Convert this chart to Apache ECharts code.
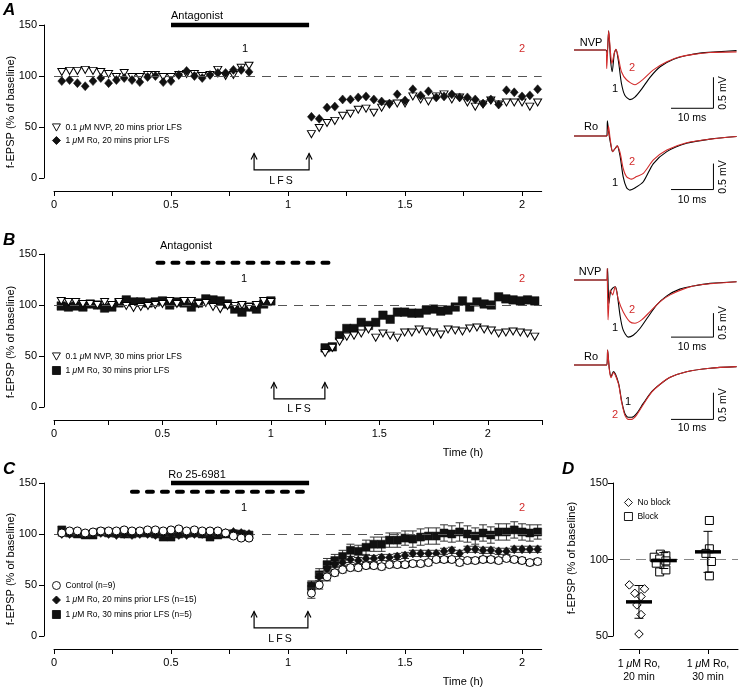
<!DOCTYPE html>
<html>
<head>
<meta charset="utf-8">
<script src="https://cdn.jsdelivr.net/npm/echarts@6.0.0/dist/echarts.min.js"></script>
<style>
html,body{margin:0;padding:0;background:#ffffff;}
#chart{width:740px;height:690px;}
</style>
</head>
<body>
<div id="chart"></div>
<script>
// ================= DATA =================
// ---- Panel A (time in minutes, f-EPSP in % of baseline)
const aBaseTimeMin = [2,4,6,8,10,12,14,16,18,20,22,24,26,28,30,32,34,36,38,40,42,44,46,48,50];
const aPostTimeMin = [66,68,70,72,74,76,78,80,82,84,86,88,90,92,94,96,98,100,102,104,106,108,110,112,114,116,118,120,122,124];
const aNvpBase = [104,105,105,106,105,104,102,99,103,99,99,101,101,99,99,101,102,102,100,101,106,100,101,108,110];
const aNvpPost = [43,49,54,56,61,63,67,68,64,69,72,73,73,80,77,75,80,82,77,79,74,70,72,76,72,74,74,74,70,74];
const aRoBase  = [95,96,93,90,95,98,93,96,98,96,94,99,100,94,95,101,105,100,98,101,103,103,106,106,104];
const aRoPost  = [60,58,69,70,77,77,79,80,77,75,73,82,76,87,81,85,79,80,82,79,79,77,73,77,72,86,84,80,81,87];
const aAntagonistBar = [0.5, 1.09];        // hours
const aLfs = [0.855, 1.09];                // hours

// ---- Panel B
const bBaseTimeMin = [2,4,6,8,10,12,14,16,18,20,22,24,26,28,30,32,34,36,38,40,42,44,46,48,50,52,54,56,58,60];
const bPostTimeMin = [75,77,79,81,83,85,87,89,91,93,95,97,99,101,103,105,107,109,111,113,115,117,119,121,123,125,127,129,131,133];
const bNvpBase = [104,103,103,101,101,100,103,100,103,99,97,98,99,100,101,104,101,104,104,101,102,98,96,99,99,100,98,100,104,103];
const bNvpPost = [53,58,64,69,70,72,76,68,72,70,68,73,73,76,74,73,71,76,75,74,77,78,76,75,72,73,74,73,72,69];
const bRoBase  = [99,98,99,98,101,100,97,98,102,105,103,103,102,103,104,100,103,102,98,102,106,105,104,101,96,93,98,96,101,104];
const bRoPost  = [58,59,70,77,77,83,80,83,90,86,93,93,92,92,95,96,94,95,98,104,98,103,101,100,108,106,105,104,105,104];
const bAntagonistBar = [0.477, 1.29];
const bLfs = [1.014, 1.249];

// ---- Panel C (mean and SEM)
const cBaseTimeMin = [2,4,6,8,10,12,14,16,18,20,22,24,26,28,30,32,34,36,38,40,42,44,46,48,50];
const cPostTimeMin = [66,68,70,72,74,76,78,80,82,84,86,88,90,92,94,96,98,100,102,104,106,108,110,112,114,116,118,120,122,124];
const cCtrlBase = [101,103,103,101,102,103,103,103,104,103,103,104,104,103,104,105,103,104,103,103,103,101,98,96,96];
const cCtrlPost = [42,50,58,62,65,67,67,69,69,68,70,70,70,71,71,72,75,75,75,72,74,74,75,75,74,76,75,74,72,73];
const cR20Base  = [100,100,101,100,100,101,100,99,100,99,100,100,99,100,100,99,99,100,100,101,100,101,102,101,100];
const cR20Post  = [49,58,66,70,72,75,74,76,76,77,77,78,79,81,81,81,81,83,84,81,85,85,84,84,83,83,85,85,85,85];
const cR30Base  = [104,101,100,99,99,102,101,101,100,100,101,101,100,97,97,100,101,101,100,97,99,100,100,100,99];
const cR30Post  = [49,60,70,74,78,84,83,87,90,90,94,94,96,95,97,98,98,101,100,102,100,98,101,99,102,102,104,102,101,102];
const cCtrlSemBase = [2,2,2,2,2,2,2,2,2,2,2,2,2,2,2,2,2,2,2,2,2,2,2,2,2];
const cCtrlSemPost = [5,4,4,3,3,3,3,3,3,3,3,3,3,3,3,3,3,3,3,3,3,3,3,3,3,3,3,3,3,3];
const cR20SemBase  = [2,2,2,2,2,2,2,2,2,2,2,2,2,2,2,2,2,2,2,2,2,2,2,2,2];
const cR20SemPost  = [4,4,3,3,3,3,3,3,3,3,3,3,3,3,3,3,3,3,3,3,3,3,3,3,3,3,3,3,3,3];
const cR30SemBase  = [3,3,3,3,3,3,3,3,3,3,3,3,3,3,3,3,3,3,3,3,3,3,3,3,3];
const cR30SemPost  = [5,6,6,6,6,6,6,7,7,7,7,7,7,8,8,8,8,8,8,9,8,8,8,8,8,8,8,8,8,7];
const cRoSolidBar  = [0.5, 1.09];
const cRoDashedBar = [0.333, 1.085];
const cLfs = [0.855, 1.085];

// ---- Panel D
const dCategories = ['1 μM Ro,\n20 min', '1 μM Ro,\n30 min'];
const dNoBlockX = [0.86,1.08,0.94,1.03,0.97,1.03,1.0];
const dNoBlockY = [83.4,80.8,77.9,75.8,70.3,64.0,51.3];
const dBlock20X = [1.31,1.22,1.39,1.30,1.25,1.39,1.30,1.39];
const dBlock20Y = [103.5,101.5,102.4,100.3,97.6,99.1,91.9,93.2];
const dBlock30X = [2.02,2.02,1.97,2.05,2.02];
const dBlock30Y = [125.5,107,104,98.7,89.3];
const dMeanX  = [1.0, 1.36, 2.0];
const dMeanY  = [72.3, 99.3, 105];
const dMeanSd = [10.7, 5.2, 13.4];

// ---- Example traces (time in ms, amplitude in mV)
const t1BlackT = [0,7.6,7.9,8.25,8.7,9.1,9.6,10.0,10.6,11.3,12.1,13.3,14.5,16.1,18.1,20.5,23.7,26.8,30.0,34.0,38.7];
const t1BlackV = [0,0,-0.05,0.31,-0.16,-0.35,-0.05,0.01,-0.19,-0.54,-0.73,-0.80,-0.76,-0.63,-0.44,-0.27,-0.15,-0.09,-0.05,-0.03,-0.01];
const t1RedT   = [0,7.6,7.8,8.25,8.7,9.0,9.6,10.0,10.6,11.3,12.5,14.5,16.5,18.9,22.1,25.2,28.4,32.4,38.7];
const t1RedV   = [0,0,-0.30,0.31,-0.05,-0.22,-0.05,0.01,-0.13,-0.35,-0.48,-0.56,-0.47,-0.32,-0.19,-0.11,-0.07,-0.04,-0.03];
const t2BlackT = [0,7.8,7.95,8.25,8.7,9.2,9.8,10.3,11.0,11.7,12.5,13.3,14.5,16.5,18.9,22.1,26.8,32.4,38.7];
const t2BlackV = [0,0,0.29,0.08,-0.14,-0.30,-0.24,-0.19,-0.40,-0.78,-0.99,-1.04,-1.0,-0.88,-0.53,-0.30,-0.14,-0.06,-0.01];
const t2RedT   = [0,7.8,8.2,8.6,9.2,9.8,10.3,11.0,11.7,12.5,13.7,14.9,16.5,18.9,22.1,26.8,32.4,38.7];
const t2RedV   = [0,0,0.19,-0.05,-0.30,-0.24,-0.19,-0.33,-0.62,-0.78,-0.83,-0.78,-0.72,-0.46,-0.27,-0.13,-0.06,-0.01];
const t3BlackT = [0,7.8,8.0,8.3,8.7,9.2,9.8,10.2,11.0,11.7,12.9,14.1,15.7,17.7,19.7,22.1,25.2,28.4,32.4,38.7];
const t3BlackV = [0,0,0.24,-0.49,-0.24,-0.17,-0.14,-0.24,-0.76,-1.04,-1.19,-1.15,-1.01,-0.76,-0.52,-0.33,-0.19,-0.125,-0.07,-0.035];
const t3RedT   = [0,7.8,7.9,8.1,8.6,9.2,9.8,10.6,11.7,13.3,14.5,16.1,18.1,20.5,22.9,26.0,30.0,38.7];
const t3RedV   = [0,0,0.24,-0.83,-0.21,-0.31,-0.14,-0.42,-0.66,-0.87,-0.90,-0.83,-0.66,-0.45,-0.31,-0.19,-0.10,-0.035];
const t4BlackT = [0,7.8,8.0,8.4,8.8,9.4,10.6,11.3,12.1,12.9,13.7,14.9,16.5,18.5,20.5,22.9,26.8,32.4,38.7];
const t4BlackV = [0,0,0.28,-0.06,-0.22,-0.125,-0.34,-0.66,-0.91,-0.98,-0.98,-0.91,-0.72,-0.50,-0.36,-0.23,-0.125,-0.06,-0.03];
const t4RedT   = [0,7.8,8.0,8.4,8.8,9.4,10.6,11.3,12.1,12.9,13.7,14.9,16.5,18.5,20.5,22.9,26.8,32.4,38.7];
const t4RedV   = [0,0,0.28,-0.08,-0.24,-0.14,-0.36,-0.68,-0.94,-1.02,-1.02,-0.94,-0.74,-0.51,-0.36,-0.23,-0.125,-0.06,-0.03];
// scale bars: [t0, t1] ms for 10 ms, [vBottom, vTop] mV for 0.5 mV
const scaleMs = [23.1, 33.2];
const t1ScaleMv = [-0.94, -0.44];
const t2ScaleMv = [-1.03, -0.53];
const t3ScaleMv = [-1.19, -0.69];
const t4ScaleMv = [-1.02, -0.52];

// ================= CHART =================
const FONT = '"Liberation Sans", Arial, Helvetica, sans-serif';
const RED = '#d22b2b';
const chart = echarts.init(document.getElementById('chart'), null, {renderer: 'canvas'});

const toPts = (tMin, vals) => tMin.map((t, i) => [t / 60, vals[i]]);
const toErr = (tMin, vals, sem) => tMin.map((t, i) => [t / 60, vals[i], sem[i]]);
const zipXY = (xs, ys) => xs.map((x, i) => [x, ys[i]]);

function ticks(max, step) { const r = []; for (let v = 0; v <= max + 1e-9; v += step) r.push(+v.toFixed(4)); return r; }

const axisLineStyle = {show: true, onZero: false, lineStyle: {color: '#000', width: 1}};
function timeXAxis(g, max) {
  return {gridIndex: g, type: 'value', min: 0, max: max, offset: 13,
    axisLine: axisLineStyle,
    axisTick: {show: true, length: 5, lineStyle: {color: '#000'}, customValues: ticks(max, 0.25)},
    axisLabel: {fontSize: 11, color: '#000', margin: 8, fontFamily: FONT, customValues: ticks(max, 0.5)},
    splitLine: {show: false}};
}
function pctYAxis(g) {
  return {gridIndex: g, type: 'value', min: 0, max: 150, interval: 50, offset: 10,
    axisLine: axisLineStyle,
    axisTick: {show: true, length: 5, lineStyle: {color: '#000'}},
    axisLabel: {fontSize: 11, color: '#000', margin: 7, fontFamily: FONT},
    splitLine: {show: false}};
}
const hidden = (g, min, max) => ({gridIndex: g, type: 'value', min: min, max: max, show: false, splitLine: {show: false}});

const dashed100 = {silent: true, symbol: 'none', label: {show: false}, emphasis: {disabled: true},
  lineStyle: {color: '#555', width: 1, type: [9, 7]}, data: [{yAxis: 100}]};

function errorBars(xi, data, z) {
  return {type: 'custom', xAxisIndex: xi, yAxisIndex: xi, data: data, z: z, silent: true,
    renderItem: (p, api) => {
      const x = api.value(0), y = api.value(1), e = api.value(2);
      const a = api.coord([x, y + e]), b = api.coord([x, y - e]);
      const w = 4, st = {stroke: '#333', lineWidth: 1};
      return {type: 'group', children: [
        {type: 'line', shape: {x1: a[0], y1: a[1], x2: b[0], y2: b[1]}, style: st},
        {type: 'line', shape: {x1: a[0] - w, y1: a[1], x2: a[0] + w, y2: a[1]}, style: st},
        {type: 'line', shape: {x1: b[0] - w, y1: b[1], x2: b[0] + w, y2: b[1]}, style: st}]};
    }};
}
function lfsBracket(xi, lfs) {
  return {type: 'custom', xAxisIndex: xi, yAxisIndex: xi, silent: true, z: 5,
    data: [[lfs[0], lfs[1], 8, 24]],
    renderItem: (p, api) => {
      const x1 = api.value(0), x2 = api.value(1), yb = api.value(2), yt = api.value(3);
      const p1b = api.coord([x1, yb]), p1t = api.coord([x1, yt]);
      const p2b = api.coord([x2, yb]), p2t = api.coord([x2, yt]);
      const st = {stroke: '#000', lineWidth: 1.2, fill: null};
      const head = (q) => ({type: 'polyline', shape: {points: [[q[0] - 3, q[1] + 6], q, [q[0] + 3, q[1] + 6]]}, style: st});
      return {type: 'group', children: [
        {type: 'polyline', shape: {points: [p1t, p1b, p2b, p2t]}, style: st},
        head(p1t), head(p2t)]};
    }};
}
function drugBar(xi, range, y, dashed) {
  return {type: 'line', xAxisIndex: xi, yAxisIndex: xi, silent: true, clip: false, showSymbol: false, symbol: 'none', z: 5,
    data: [[range[0], y], [range[1], y]],
    lineStyle: {color: '#000', width: dashed ? 4 : 4.5, type: dashed ? [6, 9] : 'solid', cap: dashed ? 'round' : 'butt'}};
}
function trace(xi, ts, vs, color, z) {
  return {type: 'line', xAxisIndex: xi, yAxisIndex: xi, silent: true, showSymbol: false, symbol: 'none', smooth: 0.25,
    z: z, clip: false, data: zipXY(ts, vs), lineStyle: {color: color, width: 1.1}};
}
function scaleBar(xi, mv) {
  return {type: 'line', xAxisIndex: xi, yAxisIndex: xi, silent: true, showSymbol: false, symbol: 'none', clip: false, z: 5,
    data: [[scaleMs[0], mv[0]], [scaleMs[1], mv[0]], [scaleMs[1], mv[1]]], lineStyle: {color: '#000', width: 1}};
}
function meanSd(xi, xs, ms, sds) {
  return {type: 'custom', xAxisIndex: xi, yAxisIndex: xi, silent: true, z: 6,
    data: xs.map((x, i) => [x, ms[i], sds[i]]),
    renderItem: (p, api) => {
      const x = api.value(0), m = api.value(1), s = api.value(2);
      const c = api.coord([x, m]), a = api.coord([x, m + s]), b = api.coord([x, m - s]);
      const st = {stroke: '#000', lineWidth: 1};
      return {type: 'group', children: [
        {type: 'line', shape: {x1: a[0], y1: a[1], x2: b[0], y2: b[1]}, style: st},
        {type: 'line', shape: {x1: a[0] - 4.5, y1: a[1], x2: a[0] + 4.5, y2: a[1]}, style: st},
        {type: 'line', shape: {x1: b[0] - 4.5, y1: b[1], x2: b[0] + 4.5, y2: b[1]}, style: st},
        {type: 'line', shape: {x1: c[0] - 13, y1: c[1], x2: c[0] + 13, y2: c[1]}, style: {stroke: '#000', lineWidth: 3.5}}]};
    }};
}

const openStyle = {color: '#fff', borderColor: '#000', borderWidth: 1, opacity: 1};
const fillStyle = {color: '#111', borderColor: '#111', borderWidth: 0.5, opacity: 1};
const TRI_DOWN = 'path://M0,0L10,0L5,9Z';

const series = [
  // ---- A
  {name: '0.1 μM NVP, 20 mins prior LFS', type: 'scatter', xAxisIndex: 0, yAxisIndex: 0, symbol: TRI_DOWN,
   symbolSize: [8, 7], itemStyle: openStyle, z: 3, data: toPts(aBaseTimeMin, aNvpBase).concat(toPts(aPostTimeMin, aNvpPost)), markLine: dashed100},
  {name: '1 μM Ro, 20 mins prior LFS', type: 'scatter', xAxisIndex: 0, yAxisIndex: 0, symbol: 'diamond', symbolSize: [8, 9],
   itemStyle: fillStyle, z: 4, data: toPts(aBaseTimeMin, aRoBase).concat(toPts(aPostTimeMin, aRoPost))},
  drugBar(0, aAntagonistBar, 150, false),
  lfsBracket(0, aLfs),
  // ---- B
  {name: '1 μM Ro, 30 mins prior LFS', type: 'scatter', xAxisIndex: 1, yAxisIndex: 1, symbol: 'rect', symbolSize: 8.5,
   itemStyle: fillStyle, z: 3, data: toPts(bBaseTimeMin, bRoBase).concat(toPts(bPostTimeMin, bRoPost)), markLine: dashed100},
  {name: '0.1 μM NVP, 30 mins prior LFS', type: 'scatter', xAxisIndex: 1, yAxisIndex: 1, symbol: TRI_DOWN,
   symbolSize: [8, 7], itemStyle: openStyle, z: 4, data: toPts(bBaseTimeMin, bNvpBase).concat(toPts(bPostTimeMin, bNvpPost))},
  drugBar(1, bAntagonistBar, 141.5, true),
  lfsBracket(1, bLfs),
  // ---- C
  errorBars(2, toErr(cBaseTimeMin, cR30Base, cR30SemBase).concat(toErr(cPostTimeMin, cR30Post, cR30SemPost)), 2),
  {name: '1 μM Ro, 30 mins prior LFS (n=5)', type: 'scatter', xAxisIndex: 2, yAxisIndex: 2, symbol: 'rect', symbolSize: 8,
   itemStyle: fillStyle, z: 3, data: toPts(cBaseTimeMin, cR30Base).concat(toPts(cPostTimeMin, cR30Post)), markLine: dashed100},
  errorBars(2, toErr(cBaseTimeMin, cR20Base, cR20SemBase).concat(toErr(cPostTimeMin, cR20Post, cR20SemPost)), 4),
  {name: '1 μM Ro, 20 mins prior LFS (n=15)', type: 'scatter', xAxisIndex: 2, yAxisIndex: 2, symbol: 'diamond', symbolSize: [8, 9],
   itemStyle: fillStyle, z: 5, data: toPts(cBaseTimeMin, cR20Base).concat(toPts(cPostTimeMin, cR20Post))},
  errorBars(2, toErr(cBaseTimeMin, cCtrlBase, cCtrlSemBase).concat(toErr(cPostTimeMin, cCtrlPost, cCtrlSemPost)), 6),
  {name: 'Control (n=9)', type: 'scatter', xAxisIndex: 2, yAxisIndex: 2, symbol: 'circle', symbolSize: 8,
   itemStyle: openStyle, z: 7, data: toPts(cBaseTimeMin, cCtrlBase).concat(toPts(cPostTimeMin, cCtrlPost))},
  drugBar(2, cRoSolidBar, 150, false),
  drugBar(2, cRoDashedBar, 141.5, true),
  lfsBracket(2, cLfs),
  // ---- D
  {name: 'No block', type: 'scatter', xAxisIndex: 3, yAxisIndex: 3, symbol: 'diamond', symbolSize: 8.5,
   itemStyle: openStyle, z: 3, data: zipXY(dNoBlockX, dNoBlockY),
   markLine: {silent: true, symbol: 'none', label: {show: false}, emphasis: {disabled: true},
     lineStyle: {color: '#888', width: 1.2, type: [10, 6]}, data: [{yAxis: 100}]}},
  {name: 'Block', type: 'scatter', xAxisIndex: 3, yAxisIndex: 3, symbol: 'rect', symbolSize: 8,
   itemStyle: openStyle, z: 3, data: zipXY(dBlock20X, dBlock20Y)},
  {name: 'Block', type: 'scatter', xAxisIndex: 3, yAxisIndex: 3, symbol: 'rect', symbolSize: 8,
   itemStyle: openStyle, z: 3, data: zipXY(dBlock30X, dBlock30Y)},
  meanSd(3, dMeanX, dMeanY, dMeanSd),
  // ---- Traces
  trace(4, t1BlackT, t1BlackV, '#000', 3), trace(4, t1RedT, t1RedV, RED, 4), scaleBar(4, t1ScaleMv),
  trace(5, t2BlackT, t2BlackV, '#000', 3), trace(5, t2RedT, t2RedV, RED, 4), scaleBar(5, t2ScaleMv),
  trace(6, t3BlackT, t3BlackV, '#000', 3), trace(6, t3RedT, t3RedV, RED, 4), scaleBar(6, t3ScaleMv),
  trace(7, t4BlackT, t4BlackV, '#000', 3), trace(7, t4RedT, t4RedV, RED, 4), scaleBar(7, t4ScaleMv)
];

function legend(names, left, top, gap) {
  return {data: names, left: left, top: top, orient: 'vertical', itemGap: gap, itemWidth: 8, itemHeight: 8,
    selectedMode: false, padding: 0,
    itemStyle: {borderWidth: 0.9},
    formatter: n => n.replace('μ', '{i|μ}'),
    textStyle: {fontSize: 8.5, color: '#000', fontFamily: FONT, padding: [0, 0, 0, 0],
      rich: {i: {fontStyle: 'italic', fontSize: 8.5, fontFamily: FONT}}}};
}

function txt(text, x, y, o) {
  o = o || {};
  return {type: 'text', x: x, y: y, rotation: o.rot || 0, silent: true, z: 100,
    style: {text: text, fill: o.color || '#000', textAlign: o.align || 'center', textVerticalAlign: 'middle',
      font: (o.style || 'normal') + ' ' + (o.weight || 'normal') + ' ' + (o.size || 11) + 'px ' + FONT}};
}
const ylab = 'f-EPSP (% of baseline)';
const graphics = [
  txt('A', 3, 10, {align: 'left', size: 17, weight: 'bold', style: 'italic'}),
  txt('B', 3, 240, {align: 'left', size: 17, weight: 'bold', style: 'italic'}),
  txt('C', 3, 469, {align: 'left', size: 17, weight: 'bold', style: 'italic'}),
  txt('D', 562, 469, {align: 'left', size: 17, weight: 'bold', style: 'italic'}),
  txt(ylab, 11, 112, {rot: Math.PI / 2}), txt(ylab, 11, 342, {rot: Math.PI / 2}),
  txt(ylab, 11, 569, {rot: Math.PI / 2}), txt(ylab, 572, 558, {rot: Math.PI / 2}),
  txt('Antagonist', 197, 16), txt('1', 245, 49), txt('2', 522, 49, {color: RED}), txt('L\u2009F\u2009S', 281, 181, {size: 10.5}),
  txt('Antagonist', 186, 246), txt('1', 244, 279), txt('2', 522, 279, {color: RED}), txt('L\u2009F\u2009S', 299, 409, {size: 10.5}),
  txt('Time (h)', 463, 453),
  txt('Ro 25-6981', 197, 475), txt('1', 244, 508), txt('2', 522, 508, {color: RED}), txt('L\u2009F\u2009S', 280, 639, {size: 10.5}),
  txt('Time (h)', 463, 682),
  // traces A
  txt('NVP', 591, 43), txt('2', 632, 68, {color: RED}), txt('1', 615, 89),
  txt('10 ms', 692, 118, {size: 10.5}), txt('0.5 mV', 723, 93, {rot: Math.PI / 2, size: 10.5}),
  txt('Ro', 591, 127), txt('2', 632, 162, {color: RED}), txt('1', 615, 183),
  txt('10 ms', 692, 200, {size: 10.5}), txt('0.5 mV', 723, 177, {rot: Math.PI / 2, size: 10.5}),
  // traces B
  txt('NVP', 590, 272), txt('2', 632, 310, {color: RED}), txt('1', 615, 328),
  txt('10 ms', 692, 347, {size: 10.5}), txt('0.5 mV', 723, 323, {rot: Math.PI / 2, size: 10.5}),
  txt('Ro', 591, 357), txt('1', 628, 402), txt('2', 615, 415, {color: RED}),
  txt('10 ms', 692, 428, {size: 10.5}), txt('0.5 mV', 723, 405, {rot: Math.PI / 2, size: 10.5})
];

const option = {
  animation: false,
  backgroundColor: '#fff',
  textStyle: {fontFamily: FONT},
  grid: [
    {left: 54, top: 25, width: 487.7, height: 153},
    {left: 54, top: 254, width: 488, height: 153},
    {left: 54, top: 483, width: 487.7, height: 153},
    {left: 620, top: 483, width: 118, height: 153},
    {left: 574, top: 22.1, width: 163.8, height: 96.1},
    {left: 574, top: 112.6, width: 163.8, height: 91},
    {left: 574, top: 258.4, width: 163.8, height: 84},
    {left: 574, top: 341, width: 163.8, height: 88}
  ],
  xAxis: [
    timeXAxis(0, 2.084), timeXAxis(1, 2.25), timeXAxis(2, 2.084),
    {gridIndex: 3, type: 'value', min: 0.725, max: 2.435, offset: 13, axisLine: axisLineStyle,
     axisTick: {show: true, length: 5, lineStyle: {color: '#000'}, customValues: [1, 2]},
     axisLabel: {customValues: [1, 2], fontSize: 10.5, color: '#000', margin: 9, lineHeight: 13, fontFamily: FONT,
       formatter: v => dCategories[Math.round(v) - 1].replace('μ', '{i|μ}'),
       rich: {i: {fontStyle: 'italic', fontSize: 10.5, fontFamily: FONT}}},
     splitLine: {show: false}},
    hidden(4, 0, 39), hidden(5, 0, 39), hidden(6, 0, 39), hidden(7, 0, 39)
  ],
  yAxis: [
    pctYAxis(0), pctYAxis(1), pctYAxis(2),
    {gridIndex: 3, type: 'value', min: 50, max: 150, interval: 50, offset: 7, axisLine: axisLineStyle,
     axisTick: {show: true, length: 5, lineStyle: {color: '#000'}},
     axisLabel: {fontSize: 11, color: '#000', margin: 5, fontFamily: FONT}, splitLine: {show: false}},
    hidden(4, -1.1, 0.45), hidden(5, -1.3, 0.45), hidden(6, -1.3, 0.45), hidden(7, -1.2, 0.45)
  ],
  legend: [
    legend(['0.1 μM NVP, 20 mins prior LFS', '1 μM Ro, 20 mins prior LFS'], 52, 123, 4),
    legend(['0.1 μM NVP, 30 mins prior LFS', '1 μM Ro, 30 mins prior LFS'], 52, 352, 5),
    legend(['Control (n=9)', '1 μM Ro, 20 mins prior LFS (n=15)', '1 μM Ro, 30 mins prior LFS (n=5)'], 52, 581, 5.5),
    legend(['No block', 'Block'], 624, 498, 5)
  ],
  series: series,
  graphic: graphics
};
chart.setOption(option);
</script>
</body>
</html>
